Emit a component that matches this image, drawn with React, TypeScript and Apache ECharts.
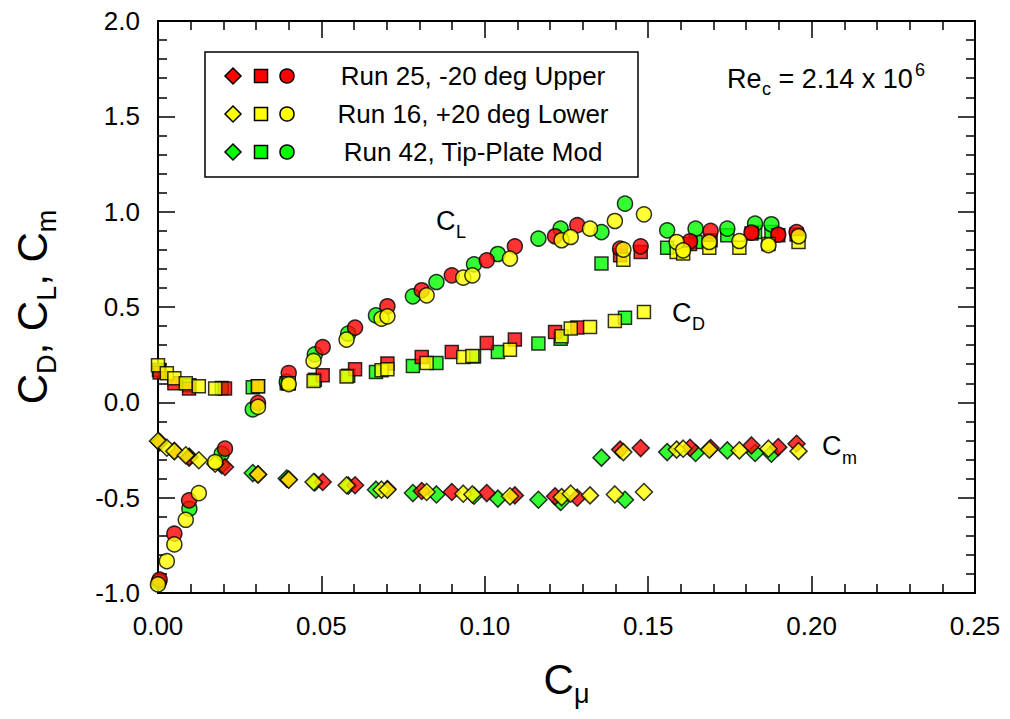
import React, { useEffect, useRef } from "react";
import * as echarts from "echarts";

// ---- Data ----
// Run 25, -20 deg Upper (red)
const run25Cmu = [0.0005, 0.005, 0.0095, 0.0205, 0.0306, 0.040, 0.0504, 0.0603, 0.0702, 0.0807, 0.0899, 0.1006, 0.1092, 0.1215, 0.1283, 0.1414, 0.1477, 0.1628, 0.1691, 0.1816, 0.1898, 0.1954];
const run25CD = [0.157, 0.10, 0.073, 0.073, 0.085, 0.10, 0.142, 0.173, 0.204, 0.238, 0.264, 0.311, 0.329, 0.369, 0.392, 0.771, 0.789, 0.83, 0.85, 0.885, 0.876, 0.88];
const run25CL = [-0.93, -0.689, -0.514, -0.243, -0.003, 0.154, 0.29, 0.392, 0.504, 0.588, 0.666, 0.745, 0.818, 0.871, 0.929, 0.806, 0.818, 0.845, 0.899, 0.89, 0.88, 0.893];
const run25Cm = [-0.21, -0.255, -0.29, -0.339, -0.378, -0.405, -0.418, -0.435, -0.455, -0.465, -0.47, -0.476, -0.488, -0.493, -0.5, -0.248, -0.24, -0.238, -0.24, -0.226, -0.235, -0.217];

// Run 16, +20 deg Lower (yellow)
const run16Cmu = [0.0, 0.0027, 0.005, 0.0085, 0.0125, 0.0175, 0.0306, 0.040, 0.0476, 0.0577, 0.0684, 0.0702, 0.0822, 0.0934, 0.0962, 0.1077, 0.1235, 0.1263, 0.1322, 0.1398, 0.1424, 0.1487, 0.1587, 0.1607, 0.1687, 0.1779, 0.1868, 0.196];
const run16CD = [0.194, 0.152, 0.126, 0.10, 0.084, 0.073, 0.084, 0.10, 0.112, 0.136, 0.168, 0.173, 0.206, 0.238, 0.243, 0.276, 0.346, 0.387, 0.395, 0.427, 0.748, 0.474, 0.789, 0.78, 0.811, 0.811, 0.83, 0.841];
const run16CL = [-0.955, -0.833, -0.745, -0.616, -0.476, -0.313, -0.024, 0.095, 0.217, 0.329, 0.439, 0.451, 0.561, 0.654, 0.666, 0.754, 0.85, 0.867, 0.911, 0.951, 0.801, 0.986, 0.841, 0.797, 0.841, 0.846, 0.824, 0.871];
const run16Cm = [-0.203, -0.238, -0.256, -0.278, -0.304, -0.322, -0.378, -0.406, -0.418, -0.435, -0.458, -0.458, -0.47, -0.479, -0.483, -0.493, -0.497, -0.479, -0.488, -0.483, -0.261, -0.47, -0.248, -0.243, -0.248, -0.252, -0.243, -0.256];

// Run 42, Tip-Plate Mod (green)
const run42Cmu = [0.0003, 0.0096, 0.0195, 0.029, 0.0394, 0.048, 0.0582, 0.0667, 0.078, 0.0852, 0.0967, 0.104, 0.1164, 0.1232, 0.1357, 0.1429, 0.1558, 0.1645, 0.1742, 0.1827, 0.1877];
const run42CD = [0.17, 0.09, 0.075, 0.079, 0.10, 0.118, 0.14, 0.159, 0.19, 0.206, 0.24, 0.264, 0.308, 0.334, 0.728, 0.444, 0.811, 0.841, 0.876, 0.893, 0.893];
const run42CL = [-0.94, -0.558, -0.27, -0.037, 0.107, 0.252, 0.36, 0.456, 0.556, 0.631, 0.724, 0.778, 0.859, 0.911, 0.893, 1.042, 0.902, 0.911, 0.911, 0.937, 0.934];
const run42Cm = [-0.205, -0.285, -0.33, -0.371, -0.40, -0.42, -0.437, -0.458, -0.476, -0.483, -0.49, -0.505, -0.511, -0.523, -0.29, -0.511, -0.261, -0.266, -0.252, -0.266, -0.27];

const legendLabels = ["Run 25, -20 deg Upper", "Run 16, +20 deg Lower", "Run 42, Tip-Plate Mod"];
const xTickValues = { min: 0, max: 0.25, interval: 0.05 };
const yTickValues = { min: -1.0, max: 2.0, interval: 0.5 };

const RED = "#ff0000";
const YELLOW = "#ffff00";
const GREEN = "#00ff00";
const FONT = "'Liberation Sans', Arial, sans-serif";

const zip = (x: number[], y: number[]) => x.map((v, i) => [v, y[i]]);

const runs = [
  { name: legendLabels[2], color: GREEN, cmu: run42Cmu, cd: run42CD, cl: run42CL, cm: run42Cm },
  { name: legendLabels[0], color: RED, cmu: run25Cmu, cd: run25CD, cl: run25CL, cm: run25Cm },
  { name: legendLabels[1], color: YELLOW, cmu: run16Cmu, cd: run16CD, cl: run16CL, cm: run16Cm },
];

export default function App() {
  const ref = useRef<HTMLDivElement>(null);
  useEffect(() => {
    const chart = echarts.init(ref.current!, null, { renderer: "svg" });

    const series: any[] = [];
    runs.forEach((r) => {
      const base = {
        type: "scatter",
        itemStyle: { color: r.color, borderColor: "#000", borderWidth: 1.5 },
        emphasis: { disabled: true },
      };
      series.push({ ...base, name: r.name + " Cm", symbol: "diamond", symbolSize: 17, data: zip(r.cmu, r.cm) });
      series.push({ ...base, name: r.name + " CD", symbol: "rect", symbolSize: 13, data: zip(r.cmu, r.cd) });
      series.push({ ...base, name: r.name + " CL", symbol: "circle", symbolSize: 15, data: zip(r.cmu, r.cl) });
    });

    const axisLine = { onZero: false, lineStyle: { color: "#000", width: 2 } };
    const axisTick = { inside: true, length: 17, lineStyle: { color: "#000", width: 1.5 } };
    const minorTick = { show: true, splitNumber: 5, length: 9, lineStyle: { color: "#000", width: 1.5 } };

    const bigRich = {
      c: { fontSize: 42, fontFamily: FONT, color: "#000", lineHeight: 44, padding: [0, 0, 12, 0] },
      s: { fontSize: 27, fontFamily: FONT, color: "#000", lineHeight: 27, verticalAlign: "bottom" },
    };

    const legendRows = [
      { color: RED, label: legendLabels[0], y: 76 },
      { color: YELLOW, label: legendLabels[1], y: 114 },
      { color: GREEN, label: legendLabels[2], y: 152 },
    ];
    const legendEls: any[] = [
      {
        type: "rect",
        shape: { x: 205, y: 52, width: 433, height: 125 },
        style: { fill: "#fff", stroke: "#000", lineWidth: 1.5 },
        z: 10,
      },
    ];
    legendRows.forEach((row) => {
      const st = { fill: row.color, stroke: "#000", lineWidth: 1.5 };
      legendEls.push({
        type: "polygon",
        shape: { points: [[233, row.y - 8], [241, row.y], [233, row.y + 8], [225, row.y]] },
        style: st,
        z: 11,
      });
      legendEls.push({ type: "rect", shape: { x: 254.5, y: row.y - 6.5, width: 13, height: 13 }, style: st, z: 11 });
      legendEls.push({ type: "circle", shape: { cx: 287, cy: row.y, r: 7 }, style: st, z: 11 });
      legendEls.push({
        type: "text",
        x: 473,
        y: row.y,
        style: { text: row.label, fontSize: 26, fontFamily: FONT, fill: "#000", align: "center", verticalAlign: "middle" },
        z: 11,
      });
    });

    const subText = (x: number, y: number, main: string, sub: string, size: number, subSize: number, subDx: number, subDy: number) => [
      { type: "text", x, y, style: { text: main, fontSize: size, fontFamily: FONT, fill: "#000", verticalAlign: "middle" }, z: 11 },
      { type: "text", x: x + subDx, y: y + subDy, style: { text: sub, fontSize: subSize, fontFamily: FONT, fill: "#000", verticalAlign: "middle" }, z: 11 },
    ];

    const annotations: any[] = [
      ...subText(436, 221, "C", "L", 27, 18, 20, 11),
      ...subText(672, 313, "C", "D", 27, 18, 20, 11),
      ...subText(822, 446, "C", "m", 27, 18, 20, 12),
      { type: "text", x: 727, y: 79, style: { text: "Re", fontSize: 27, fontFamily: FONT, fill: "#000", verticalAlign: "middle" }, z: 11 },
      { type: "text", x: 762, y: 89, style: { text: "c", fontSize: 18, fontFamily: FONT, fill: "#000", verticalAlign: "middle" }, z: 11 },
      { type: "text", x: 771, y: 79, style: { text: " = 2.14 x 10", fontSize: 27, fontFamily: FONT, fill: "#000", verticalAlign: "middle" }, z: 11 },
      { type: "text", x: 915, y: 70, style: { text: "6", fontSize: 18, fontFamily: FONT, fill: "#000", verticalAlign: "middle" }, z: 11 },
    ];

    const option: any = {
      animation: false,
      backgroundColor: "#fff",
      grid: { left: 158, right: 35, top: 21, bottom: 126, containLabel: false },
      xAxis: [
        {
          type: "value",
          position: "bottom",
          ...xTickValues,
          axisLine,
          axisTick,
          minorTick,
          splitLine: { show: false },
          axisLabel: { fontSize: 26, fontFamily: FONT, color: "#000", margin: 20, formatter: (v: number) => v.toFixed(2) },
          name: "{c|C}{s|\u03bc}",
          nameLocation: "middle",
          nameGap: 70,
          nameTextStyle: { rich: bigRich },
        },
        {
          type: "value",
          position: "top",
          ...xTickValues,
          axisLine,
          axisTick,
          minorTick,
          splitLine: { show: false },
          axisLabel: { show: false },
        },
      ],
      yAxis: [
        {
          type: "value",
          position: "left",
          ...yTickValues,
          axisLine,
          axisTick,
          minorTick,
          splitLine: { show: false },
          axisLabel: { fontSize: 26, fontFamily: FONT, color: "#000", margin: 18, formatter: (v: number) => v.toFixed(1) },
          name: "{c|C}{s|D}{c|, C}{s|L}{c|, C}{s|m}",
          nameLocation: "middle",
          nameGap: 98,
          nameRotate: 90,
          nameTextStyle: { rich: bigRich },
        },
        {
          type: "value",
          position: "right",
          ...yTickValues,
          axisLine,
          axisTick,
          minorTick,
          splitLine: { show: false },
          axisLabel: { show: false },
        },
      ],
      series,
      graphic: [...legendEls, ...annotations],
    };

    chart.setOption(option);
    return () => chart.dispose();
  }, []);

  return (
    <div
      ref={ref}
      style={{ position: "fixed", left: 0, top: 0, width: 1010, height: 719, background: "#fff" }}
    />
  );
}
